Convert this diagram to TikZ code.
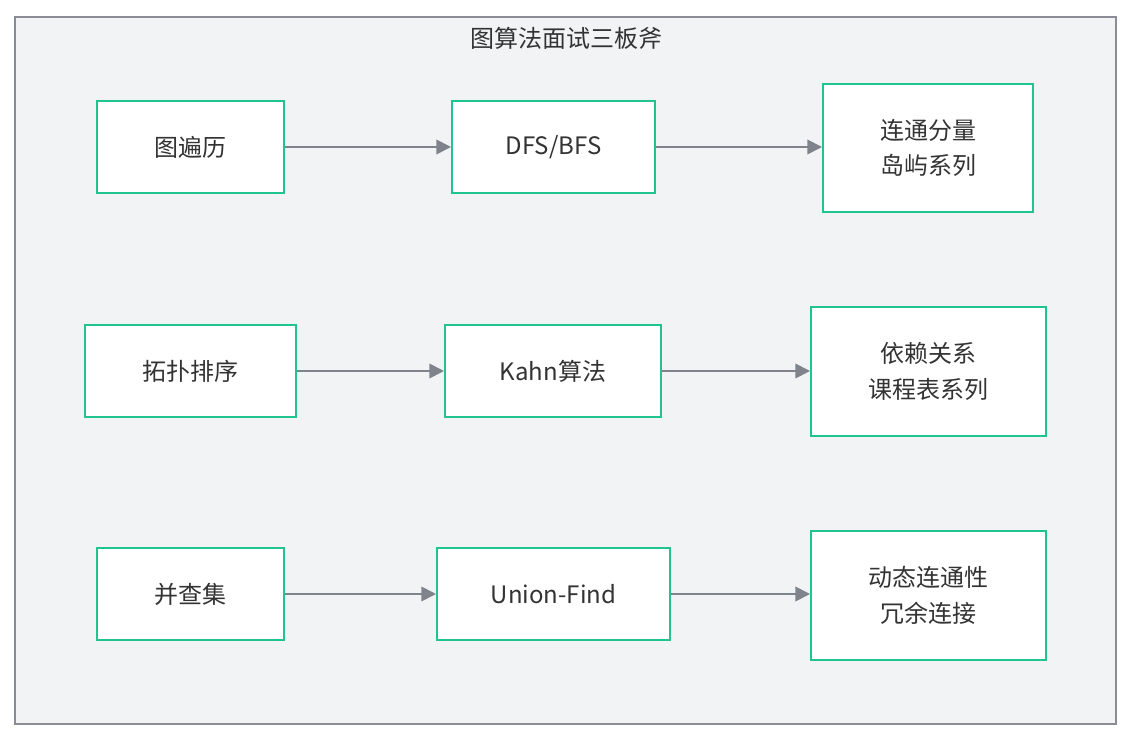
\documentclass[tikz,border=0pt]{standalone}
\usepackage{fontspec}
\setmainfont{Noto Sans CJK SC}
\usetikzlibrary{arrows.meta}
\definecolor{bgc}{HTML}{F2F3F5}
\definecolor{framec}{HTML}{8A8D96}
\definecolor{boxc}{HTML}{20C48F}
\definecolor{arrc}{HTML}{7F838C}
\definecolor{txtc}{HTML}{333333}
\tikzset{
  boxn/.style={draw=boxc, line width=1.5pt, fill=white, inner sep=0pt, align=center, text=txtc, font=\fontsize{18}{26.5}\selectfont},
  conn/.style={draw=arrc, line width=1.3pt, -{Triangle[length=11pt,width=11pt]}},
}
\begin{document}
\begin{tikzpicture}[x=0.75pt,y=-0.75pt]
\useasboundingbox (0,0) rectangle (1134,741);
\draw[framec, line width=1.5pt, fill=bgc] (15,17) rectangle (1116,724);
\node[text=txtc, font=\fontsize{18}{20}\selectfont] (title) at (566,38) {图算法面试三板斧};
% row 1
\node[boxn, minimum width=187*0.75pt, minimum height=92*0.75pt] (a1) at (190.5,147) {\raisebox{-1.5pt}{图遍历}};
\node[boxn, minimum width=203*0.75pt, minimum height=92*0.75pt] (b1) at (553.5,147) {\raisebox{-1.5pt}{DFS/BFS}};
\node[boxn, minimum width=210*0.75pt, minimum height=128*0.75pt] (c1) at (928,148) {连通分量\\岛屿系列};
% row 2
\node[boxn, minimum width=211*0.75pt, minimum height=92*0.75pt] (a2) at (190.5,371) {\raisebox{-1.5pt}{拓扑排序}};
\node[boxn, minimum width=216*0.75pt, minimum height=92*0.75pt] (b2) at (553,371) {\raisebox{-1.5pt}{Kahn算法}};
\node[boxn, minimum width=235*0.75pt, minimum height=129*0.75pt] (c2) at (928.5,371.5) {依赖关系\\课程表系列};
% row 3
\node[boxn, minimum width=187*0.75pt, minimum height=92*0.75pt] (a3) at (190.5,594) {\raisebox{-1.5pt}{并查集}};
\node[boxn, minimum width=233*0.75pt, minimum height=92*0.75pt] (b3) at (553.5,594) {\raisebox{-1.5pt}{Union-Find}};
\node[boxn, minimum width=235*0.75pt, minimum height=129*0.75pt] (c3) at (928.5,595.5) {动态连通性\\冗余连接};
\draw[conn] (a1) -- (b1);
\draw[conn] (b1) -- (c1.west |- b1);
\draw[conn] (a2) -- (b2);
\draw[conn] (b2) -- (c2.west |- b2);
\draw[conn] (a3) -- (b3);
\draw[conn] (b3) -- (c3.west |- b3);
\end{tikzpicture}
\end{document}
